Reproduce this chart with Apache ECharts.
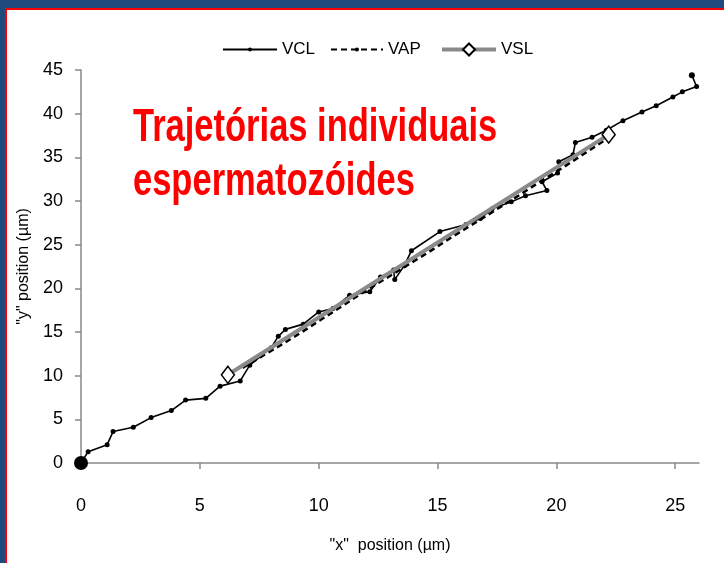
<!DOCTYPE html>
<html>
<head>
<meta charset="utf-8">
<script src="https://cdn.jsdelivr.net/npm/echarts@6/dist/echarts.min.js"></script>
<style>
  html, body { margin: 0; padding: 0; width: 724px; height: 563px; overflow: hidden; background: #1f4a7e; }
  #frame { position: absolute; left: 5px; top: 8px; width: 719px; height: 555px; background: #ffffff;
           border-left: 2px solid #ff0000; border-top: 2px solid #ff0000; box-sizing: border-box; }
  #chart { position: absolute; left: 0; top: 0; width: 724px; height: 563px; }
</style>
</head>
<body>
<div id="frame"></div>
<div id="chart"></div>
<script>
// Curvilinear track (VCL): every sampled head position, in µm
const vclX = [0, 0.3, 1.1, 1.35, 2.2, 2.95, 3.8, 4.4, 5.25, 5.85, 6.7, 7.1, 8.0, 8.3, 8.6, 9.35, 10.0, 10.6, 11.3, 12.15, 12.6, 13.15, 13.2, 13.6, 13.9, 15.1, 16.2, 16.8, 17.3, 18.1, 18.7, 19.6, 19.4, 20.05, 20.1, 20.7, 20.8, 21.5, 22.1, 22.8, 23.6, 24.2, 24.9, 25.3, 25.9, 25.7];
const vclY = [0, 1.3, 2.1, 3.6, 4.1, 5.2, 6.0, 7.2, 7.4, 8.8, 9.4, 11.2, 13.2, 14.5, 15.3, 15.9, 17.3, 17.7, 19.2, 19.6, 21.3, 22.1, 21.0, 22.6, 24.3, 26.5, 27.3, 28.0, 29.1, 29.9, 30.6, 31.2, 32.2, 33.2, 34.5, 35.3, 36.7, 37.3, 38.1, 39.2, 40.2, 40.9, 41.9, 42.5, 43.1, 44.4];

// Average path (VAP)
const vapX = [6.8, 7.6, 8.4, 9.3, 10.2, 11.0, 11.9, 12.8, 13.7, 14.6, 15.5, 16.4, 17.4, 18.4, 19.3, 20.2, 21.1, 22.0];
const vapY = [10.9, 12.2, 13.5, 15.0, 16.6, 18.0, 19.6, 21.1, 22.6, 24.1, 25.7, 27.2, 28.9, 30.6, 32.2, 33.7, 35.3, 36.9];

// Straight line (VSL): first and last point of the averaged track
const vslX = [6.18, 22.2];
const vslY = [10.1, 37.6];

const xTicks = [0, 5, 10, 15, 20, 25];
const yTicks = [0, 5, 10, 15, 20, 25, 30, 35, 40, 45];

const pairs = (xs, ys) => xs.map((x, i) => [x, ys[i]]);

const vclData = pairs(vclX, vclY).map((p, i, arr) => {
  if (i === 0) return { value: p, symbolSize: 14 };
  if (i === arr.length - 1) return { value: p, symbolSize: 6 };
  return p;
});

const chart = echarts.init(document.getElementById('chart'), null, { renderer: 'canvas' });
const labelFont = 'Liberation Sans, Arial, sans-serif';
const legendText = { fontFamily: labelFont, fontSize: 17, color: '#000' };

chart.setOption({
  backgroundColor: 'transparent',
  animation: false,
  graphic: [{
    type: 'text',
    x: 133,
    y: 101,
    scaleX: 0.75,
    originX: 0,
    style: {
      text: 'Trajetórias individuais\nespermatozóides',
      fill: '#ff0000',
      fontFamily: labelFont,
      fontWeight: 'bold',
      fontSize: 46,
      lineHeight: 54,
      textVerticalAlign: 'top'
    }
  }],
  legend: [
    { data: ['VCL'], top: 36, left: 217, itemWidth: 54, itemHeight: 5, textStyle: legendText },
    { data: ['VAP'], top: 36, left: 325, itemWidth: 52, itemHeight: 5, textStyle: legendText },
    { data: [{ name: 'VSL', lineStyle: { width: 4, color: '#8a8a8a' } }], top: 36, left: 435, itemWidth: 54, itemHeight: 15, textStyle: legendText }
  ],
  grid: { left: 81, right: 25, top: 70, bottom: 100, containLabel: false },
  xAxis: {
    type: 'value',
    min: 0,
    max: 26,
    interval: 5,
    name: '"x"  position (µm)',
    nameLocation: 'middle',
    nameGap: 75,
    nameTextStyle: { fontFamily: labelFont, fontSize: 16, color: '#000' },
    axisLine: { lineStyle: { color: '#898989', width: 1.5 } },
    axisTick: { length: 6, lineStyle: { color: '#898989', width: 1.5 }, customValues: xTicks },
    axisLabel: { margin: 34, fontFamily: labelFont, fontSize: 18, color: '#000', customValues: xTicks },
    splitLine: { show: false }
  },
  yAxis: {
    type: 'value',
    min: 0,
    max: 45,
    interval: 5,
    name: '"y" position (µm)',
    nameLocation: 'middle',
    nameGap: 49,
    nameTextStyle: { fontFamily: labelFont, fontSize: 16, color: '#000' },
    axisLine: { show: true, lineStyle: { color: '#898989', width: 1.5 } },
    axisTick: { show: true, length: 6, lineStyle: { color: '#898989', width: 1.5 }, customValues: yTicks },
    axisLabel: { margin: 18, fontFamily: labelFont, fontSize: 18, color: '#000', customValues: yTicks },
    splitLine: { show: false }
  },
  series: [
    {
      name: 'VCL',
      type: 'line',
      data: vclData,
      symbol: 'circle',
      symbolSize: 5,
      showAllSymbol: true,
      lineStyle: { color: '#000', width: 1.6 },
      itemStyle: { color: '#000' },
      z: 2
    },
    {
      name: 'VAP',
      type: 'line',
      data: pairs(vapX, vapY),
      symbol: 'none',
      lineStyle: { color: '#000', width: 2.6, type: [6, 4] },
      itemStyle: { color: '#000' },
      z: 3
    },
    {
      name: 'VSL',
      type: 'line',
      data: pairs(vslX, vslY),
      symbol: 'diamond',
      symbolSize: [13, 17],
      lineStyle: { color: '#8a8a8a', width: 4 },
      itemStyle: { color: '#ffffff', borderColor: '#000', borderWidth: 1.5 },
      z: 4
    }
  ]
});
</script>
</body>
</html>
